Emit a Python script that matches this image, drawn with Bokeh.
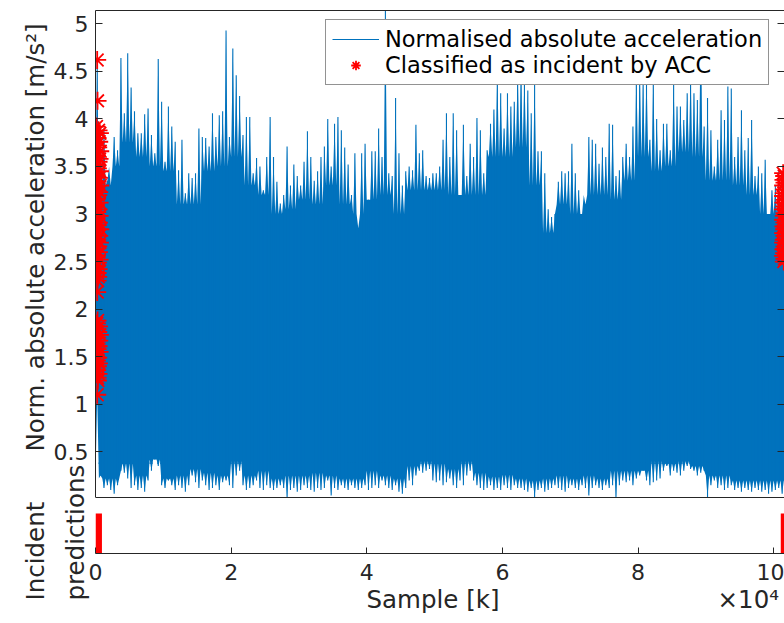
import numpy as np
from bokeh.plotting import figure
from bokeh.models import (Range1d, FixedTicker, CustomJSTickFormatter, LinearAxis,
                          Legend, LegendItem, Title, ColumnDataSource, Span)
from bokeh.layouts import column
from bokeh.embed import file_html
from bokeh.resources import INLINE

# ---------------- data ----------------
X_MAX = 101600
Y_MIN, Y_MAX = 0.02, 5.14
COL_STEP = 500          # one envelope column per 500 samples
BODY_STEP = 2000        # dense-core envelope every 2000 samples

# per-column maximum of the normalised absolute acceleration
sig_upper = [
    4.62, 3.9, 3.9, 3.35, 3.3, 3.81, 3.67, 4.64, 4.06, 4.69,
    4.33, 4.08, 3.85, 3.85, 4.05, 4.11, 3.83, 3.64, 4.63, 4.18,
    3.55, 4.13, 3.92, 3.76, 3.46, 3.78, 3.22, 3.43, 3.38, 3.43,
    3.9, 3.81, 3.8, 3.71, 4.06, 3.81, 4.04, 4.08, 4.93, 3.81,
    4.74, 4.46, 4.24, 3.83, 4.02, 4.02, 3.43, 3.59, 3.5, 3.25,
    3.6, 4.02, 3.6, 3.34, 3.11, 3.2, 3.71, 3.3, 3.52, 3.4,
    3.3, 3.55, 3.87, 3.6, 3.35, 3.45, 3.6, 3.71,
    4.0, 3.5, 3.95, 4.02, 3.88, 3.7, 3.52, 3.2, 3.64, 2.85,
    3.64, 3.74, 3.15, 3.66, 3.66, 3.9, 3.6, 5.14, 3.43, 3.4,
    4.22, 3.64, 3.3, 3.45, 3.5, 3.46, 3.94, 3.64, 3.67, 3.4,
    3.38, 3.43, 3.43, 3.5, 3.78, 4.06, 3.6, 4.06, 3.88, 3.2,
    3.94, 3.4, 3.74, 3.6, 4.01, 3.88, 3.43, 3.67, 3.95, 4.1,
    4.5, 4.27, 3.9, 4.27, 4.13, 4.18, 4.5, 4.5, 4.45, 4.3,
    4.06, 4.4, 3.66, 3.66, 3.43, 3.05, 2.97, 3.0,
    3.34, 3.45, 3.43, 3.45, 3.74, 3.43, 3.25, 3.0, 3.1, 3.81,
    3.78, 3.74, 3.53, 3.7, 3.6, 3.95, 3.94, 3.4, 3.46, 3.6,
    3.74, 3.6, 3.92, 4.5, 4.5, 4.4, 4.5, 3.78, 4.45, 4.0,
    3.67, 3.95, 3.95, 3.67, 4.4, 4.13, 4.13, 3.99, 4.27, 4.5,
    4.27, 4.2, 5.03, 3.92, 4.22, 3.88, 3.5, 3.78, 4.09, 3.99,
    4.34, 4.32, 3.6, 3.81, 4.09, 3.67, 3.8, 3.99, 3.4, 3.5,
    3.43, 3.57, 3.0, 3.25, 3.3, 3.45, 3.4, 3.3,
]

# per-column minimum
sig_lower = [
    1.08, 0.25, 0.12, 0.15, 0.1, 0.06, 0.15, 0.3, 0.28, 0.22,
    0.12, 0.15, 0.1, 0.12, 0.08, 0.2, 0.3, 0.42, 0.35, 0.15,
    0.12, 0.2, 0.15, 0.1, 0.15, 0.12, 0.08, 0.15, 0.25, 0.18,
    0.12, 0.2, 0.15, 0.1, 0.12, 0.15, 0.1, 0.18, 0.2, 0.15,
    0.12, 0.25, 0.3, 0.15, 0.1, 0.12, 0.15, 0.2, 0.12, 0.1,
    0.15, 0.12, 0.1, 0.12, 0.15, 0.12, 0.02, 0.1, 0.12, 0.08,
    0.1, 0.15, 0.12, 0.1, 0.08, 0.12, 0.1, 0.12,
    0.2, 0.04, 0.12, 0.1, 0.15, 0.12, 0.1, 0.15, 0.12, 0.1,
    0.12, 0.15, 0.1, 0.12, 0.15, 0.12, 0.2, 0.15, 0.12, 0.1,
    0.15, 0.08, 0.06, 0.12, 0.2, 0.15, 0.25, 0.3, 0.28, 0.3,
    0.32, 0.2, 0.18, 0.2, 0.15, 0.18, 0.22, 0.15, 0.12, 0.2,
    0.15, 0.25, 0.3, 0.2, 0.15, 0.12, 0.1, 0.12, 0.15, 0.1,
    0.12, 0.1, 0.15, 0.12, 0.1, 0.15, 0.12, 0.12, 0.1, 0.08,
    0.12, 0.02, 0.1, 0.12, 0.08, 0.1, 0.12, 0.15,
    0.12, 0.1, 0.08, 0.12, 0.15, 0.12, 0.1, 0.15, 0.12, 0.04,
    0.12, 0.15, 0.12, 0.1, 0.15, 0.12, 0.15, 0.02, 0.15, 0.2,
    0.18, 0.2, 0.15, 0.22, 0.25, 0.3, 0.2, 0.15, 0.18, 0.2,
    0.22, 0.3, 0.35, 0.25, 0.3, 0.28, 0.25, 0.3, 0.35, 0.32,
    0.3, 0.25, 0.28, 0.3, 0.02, 0.15, 0.2, 0.12, 0.15, 0.1,
    0.12, 0.15, 0.1, 0.12, 0.08, 0.12, 0.1, 0.08, 0.12, 0.1,
    0.08, 0.1, 0.06, 0.08, 0.1, 0.12, 0.06, 0.1,
]

# dense core of the signal (solid blue band), one value per 2000 samples
body_hi = [
    3.3, 3.5, 3.75, 3.6, 3.5, 3.45, 3.1, 3.1, 3.45, 3.5, 3.6, 3.3, 3.2, 3.0, 3.05, 3.15, 3.1,
    3.3, 3.1, 3.0, 3.15, 3.2, 3.0, 3.25, 3.25, 3.25, 3.2, 3.2, 3.2, 3.6, 3.6, 3.7, 3.3, 2.8,
    3.1, 3.0, 3.2, 3.2, 3.15, 3.35, 3.6, 3.45, 3.5, 3.65, 3.6, 3.35, 3.35, 3.3, 3.2, 3.0, 3.0,
]
body_lo = [
    0.22, 0.22, 0.38, 0.25, 0.42, 0.22, 0.25, 0.32, 0.28, 0.25, 0.4, 0.25, 0.3, 0.22, 0.25, 0.25, 0.28,
    0.25, 0.22, 0.22, 0.3, 0.25, 0.22, 0.35, 0.4, 0.38, 0.32, 0.4, 0.28, 0.24, 0.26, 0.22, 0.2, 0.22,
    0.25, 0.22, 0.25, 0.22, 0.3, 0.3, 0.3, 0.4, 0.38, 0.4, 0.35, 0.25, 0.25, 0.2, 0.2, 0.2, 0.2,
]

# samples classified as incident by ACC (sample index, value)
inc_pts_x = [
    250, 300, 150, 450, 650, 300, 550, 100, 400, 700, 200, 600, 450, 50, 350, 650, 150, 500,
    300, 700, 100, 550, 400, 200, 600, 50, 450, 250, 600, 150, 500, 350, 700, 100, 550, 250,
    650, 400, 50, 500, 200, 600, 350, 150, 450, 300, 400, 300, 250,
    300, 200, 500, 100, 400, 650, 250, 550, 150, 450, 300, 600, 50, 400, 200, 500, 350, 250,
    450, 300, 350, 250,
    101400, 101550, 101450, 101600, 101400, 101550, 101500, 101400, 101600, 101450,
    101550, 101400, 101600, 101500, 101400, 101600, 101450, 101550, 101400, 101600,
    101500, 101400, 101600, 101450, 101550, 101400, 101600, 101500,
]
inc_pts_y = [
    4.62, 4.19, 3.92, 3.88, 3.85, 3.80, 3.76, 3.72, 3.70, 3.66, 3.62, 3.58, 3.55, 3.52, 3.48, 3.45, 3.41, 3.38,
    3.34, 3.30, 3.27, 3.23, 3.20, 3.16, 3.12, 3.09, 3.05, 3.02, 2.98, 2.95, 2.91, 2.88, 2.84, 2.80, 2.77, 2.73,
    2.70, 2.66, 2.63, 2.60, 2.56, 2.52, 2.49, 2.45, 2.42, 2.38, 2.34, 2.30, 2.18,
    1.88, 1.85, 1.82, 1.79, 1.76, 1.73, 1.70, 1.67, 1.64, 1.61, 1.58, 1.55, 1.52, 1.49, 1.46, 1.43, 1.40, 1.36,
    1.32, 1.28, 1.25, 1.10,
    3.43, 3.40, 3.36, 3.33, 3.30, 3.26, 3.22, 3.19, 3.15, 3.12,
    3.08, 3.05, 3.01, 2.98, 2.94, 2.91, 2.87, 2.84, 2.80, 2.77,
    2.73, 2.70, 2.66, 2.63, 2.59, 2.56, 2.53, 2.50,
]

# incident prediction intervals (sample indices)
pred_start = [0, 101050]
pred_end = [950, 101600]

y_ticks = [0.5, 1, 1.5, 2, 2.5, 3, 3.5, 4, 4.5, 5]
x_ticks = [0, 20000, 40000, 60000, 80000, 100000]

# ---------------- styling / layout (pixels) ----------------
BLUE = "#0072BD"
RED = "#FF0000"
AX = "#262626"
FONT = "DejaVu Sans"
TICK_FS = "22px"
LABEL_FS = "24.5px"
NBSP = "\u00a0"

W = 784
LEFT = 95
TOP_PX, BOX_BOTTOM_PX = 10, 497        # signal box
SPLIT_PX = 464                          # bottom of the first canvas
OVERLAP = 2                             # second canvas overlaps the first by this much
STRIP_TOP_PX, STRIP_BOTTOM_PX = 513, 553
PAGE_H = 623

ppu = (BOX_BOTTOM_PX - TOP_PX) / (Y_MAX - Y_MIN)          # pixels per y unit
y_split = Y_MAX - (SPLIT_PX - TOP_PX) / ppu
y_p2_top = Y_MAX - (SPLIT_PX - OVERLAP - TOP_PX) / ppu
y_low = Y_MIN - (STRIP_BOTTOM_PX - BOX_BOTTOM_PX) / ppu
p2_top_px = SPLIT_PX - OVERLAP
pred_top = (STRIP_BOTTOM_PX - p2_top_px) / (STRIP_BOTTOM_PX - STRIP_TOP_PX)

# ---------------- geometry of the dense signal ----------------
n_col = len(sig_upper)
per_body = BODY_STEP // COL_STEP
sil_x, sil_top, sil_bot = [], [], []
for i in range(n_col):
    b = min(i // per_body, len(body_hi) - 1)
    sil_x += [COL_STEP * i, COL_STEP * i + COL_STEP / 2]
    sil_top += [body_hi[b], sig_upper[i]]
    sil_bot += [body_lo[b], sig_lower[i]]
sil_x.append(X_MAX)
sil_top.append(body_hi[-1])
sil_bot.append(body_lo[-1])

sil_src = ColumnDataSource(dict(x=sil_x, top=sil_top, bot=sil_bot))
seg_src = ColumnDataSource(dict(x=[COL_STEP * i + COL_STEP / 2 for i in range(n_col)],
                                lo=sig_lower, hi=sig_upper))
pts_src = ColumnDataSource(dict(x=inc_pts_x, y=inc_pts_y))
pred_src = ColumnDataSource(dict(left=pred_start, right=pred_end))


def plain_axis(bounds=None, visible=True, ticks=()):
    c = AX if visible else None
    ax = LinearAxis(ticker=FixedTicker(ticks=list(ticks), minor_ticks=[]),
                    formatter=CustomJSTickFormatter(code="return ''"),
                    major_tick_in=7, major_tick_out=0, major_label_standoff=0,
                    axis_line_color=c, major_tick_line_color=c, minor_tick_line_color=None)
    if bounds is not None:
        ax.bounds = bounds
    return ax


def draw_signal(p):
    p.varea(x="x", y1="bot", y2="top", source=sil_src, fill_color=BLUE, fill_alpha=1)
    return p.segment(x0="x", y0="lo", x1="x", y1="hi", source=seg_src, line_color=BLUE, line_width=1.1)


# ---------------- top figure: upper part of the signal box ----------------
p1 = figure(width=W, height=SPLIT_PX, x_range=Range1d(0, X_MAX), y_range=Range1d(y_split, Y_MAX),
            output_backend="svg", toolbar_location=None, x_axis_location=None,
            min_border_left=LEFT, min_border_right=0, min_border_top=TOP_PX, min_border_bottom=0)
p1.grid.visible = False
p1.outline_line_color = None

sig_r = draw_signal(p1)
pts_r = p1.scatter(x="x", y="y", source=pts_src, marker="asterisk", size=18,
                   line_color=RED, line_width=1.8)

ya = p1.yaxis[0]
ya.ticker = FixedTicker(ticks=y_ticks, minor_ticks=[])
ya.formatter = CustomJSTickFormatter(code="return tick.toString()")
ya.major_tick_in = 7
ya.major_tick_out = 0
ya.minor_tick_line_color = None
ya.axis_line_color = AX
ya.major_tick_line_color = AX
ya.major_label_text_font = FONT
ya.major_label_text_font_size = TICK_FS
ya.major_label_text_color = AX
ya.major_label_standoff = 7

p1.add_layout(Title(text="Norm. absolute acceleration [m/s²]", align="center", offset=-13,
                    standoff=2, text_font=FONT, text_font_size=LABEL_FS,
                    text_font_style="normal", text_color=AX), "left")
p1.add_layout(plain_axis(ticks=y_ticks), "right")
p1.add_layout(plain_axis(), "above")

legend = Legend(items=[LegendItem(label="Normalised absolute acceleration", renderers=[sig_r]),
                       LegendItem(label="Classified as incident by ACC", renderers=[pts_r])],
                location=(230, SPLIT_PX - 85))
legend.label_text_font = FONT
legend.label_text_font_size = "22.5px"
legend.label_text_color = "#000000"
legend.glyph_width = 47
legend.glyph_height = 24
legend.label_height = 24
legend.label_standoff = 6
legend.spacing = 0
legend.padding = 6
legend.margin = 0
legend.border_line_color = AX
legend.border_line_width = 1
legend.background_fill_color = "white"
legend.background_fill_alpha = 1
p1.add_layout(legend, "center")

# ---------------- bottom figure: box bottom + prediction strip ----------------
# transparent, and laid 2px over the first canvas so the signal continues seamlessly
p2 = figure(width=W, height=PAGE_H - p2_top_px, x_range=p1.x_range, y_range=Range1d(y_low, y_p2_top),
            output_backend="svg", toolbar_location=None, y_axis_location=None,
            min_border_left=LEFT, min_border_right=0, min_border_top=0,
            min_border_bottom=PAGE_H - STRIP_BOTTOM_PX)
p2.margin = (-OVERLAP, 0, 0, 0)
p2.grid.visible = False
p2.outline_line_color = None
p2.border_fill_alpha = 0
p2.background_fill_alpha = 0
p2.extra_y_ranges = {"pred": Range1d(0, pred_top)}

draw_signal(p2)
p2.add_layout(Span(location=Y_MIN, dimension="width", line_color=AX, line_width=1))
p2.quad(left="left", right="right", bottom=0, top=1, source=pred_src,
        fill_color=RED, line_color=None, y_range_name="pred")

p2.add_layout(plain_axis(bounds=(Y_MIN, y_p2_top)), "left")
p2.add_layout(plain_axis(bounds=(Y_MIN, y_p2_top)), "right")

xa = p2.xaxis[0]
xa.ticker = FixedTicker(ticks=x_ticks, minor_ticks=[])
xa.formatter = CustomJSTickFormatter(code="return (tick / 10000).toString()")
xa.major_tick_in = 6
xa.major_tick_out = 0
xa.minor_tick_line_color = None
xa.axis_line_color = AX
xa.major_tick_line_color = AX
xa.major_label_text_font = FONT
xa.major_label_text_font_size = TICK_FS
xa.major_label_text_color = AX
xa.major_label_standoff = 10

# axis label and the x10^4 multiplier share one line under the tick labels
p2.add_layout(Title(text="Sample [k]" + NBSP * 28 + "×10⁴", align="left", offset=271,
                    standoff=0, text_font=FONT, text_font_size=LABEL_FS,
                    text_font_style="normal", text_color=AX), "below")

# two-line rotated label of the prediction strip (starts 47px below the strip)
p2.add_layout(Title(text="predictions", align="left", offset=-47, standoff=11,
                    text_font=FONT, text_font_size=LABEL_FS, text_font_style="normal",
                    text_color=AX), "left")
p2.add_layout(Title(text="Incident", align="left", offset=-47, standoff=7,
                    text_font=FONT, text_font_size=LABEL_FS, text_font_style="normal",
                    text_color=AX), "left")

layout = column(p1, p2, spacing=0)
open("out.html", "w").write(file_html(layout, INLINE))
